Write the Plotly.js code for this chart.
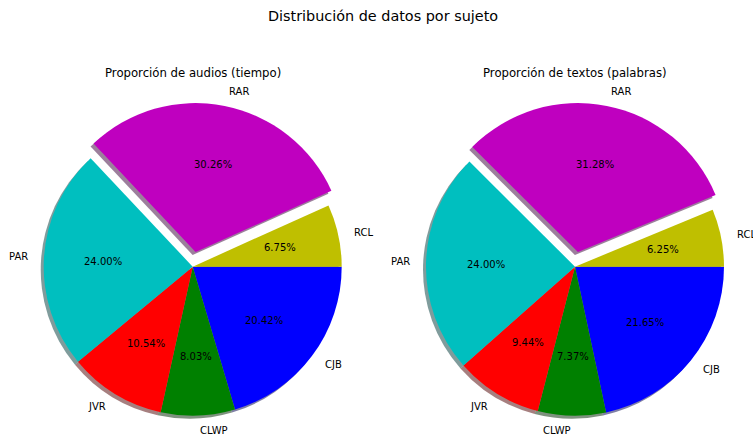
<!DOCTYPE html>
<html><head><meta charset="utf-8">
<script src="https://cdn.plot.ly/plotly-3.0.1.min.js"></script>
<style>html,body{margin:0;padding:0;background:#fff}</style>
</head><body><div id="chart" style="width:753px;height:439px"></div>
<script>
const labels = ['RCL', 'RAR', 'PAR', 'JVR', 'CLWP', 'CJB'];
const audioValues = [6.75, 30.26, 24.00, 10.54, 8.03, 20.42];
const textValues = [6.25, 31.28, 24.00, 9.44, 7.37, 21.65];
const explode = [0, 0.1, 0, 0, 0, 0];
const colors = ['#bfbf00', '#bf00bf', '#00bfbf', '#ff0000', '#008000', '#0000ff'];
const mainTitle = 'Distribución de datos por sujeto';
const subTitles = ['Proporción de audios (tiempo)', 'Proporción de textos (palabras)'];

const W = 753, H = 439;
const FONT = 'DejaVu Sans, sans-serif';
const pies = [
  {values: audioValues, cx: 192.7, cy: 266.7, r: 149, title: subTitles[0]},
  {values: textValues, cx: 575.0, cy: 266.7, r: 149, title: subTitles[1]}
];

function shadowColor(hex) {
  const n = parseInt(hex.slice(1), 16);
  const r = (n >> 16) & 255, g = (n >> 8) & 255, b = n & 255;
  return `rgba(${Math.round(r * 0.3)},${Math.round(g * 0.3)},${Math.round(b * 0.3)},0.5)`;
}
const rev = a => a.slice().reverse();
const maxPull = Math.max(...explode);

function domainFor(cx, cy, r) {
  const half = r * (1 + maxPull);
  return {x: [(cx - half) / W, (cx + half) / W], y: [1 - (cy + half) / H, 1 - (cy - half) / H]};
}

const traces = [];
const annotations = [];

pies.forEach(p => {
  const off = 0.02 * p.r;
  const base = {
    type: 'pie', labels: rev(labels), values: rev(p.values), pull: rev(explode),
    sort: false, direction: 'clockwise', rotation: 90, textinfo: 'none',
    hoverinfo: 'skip', showlegend: false
  };
  traces.push(Object.assign({}, base, {
    domain: domainFor(p.cx - off, p.cy + off, p.r),
    marker: {colors: rev(colors).map(shadowColor), line: {width: 0}}
  }));
  traces.push(Object.assign({}, base, {
    domain: domainFor(p.cx, p.cy, p.r),
    marker: {colors: rev(colors), line: {width: 0}}
  }));

  // text placement following matplotlib's pie conventions
  const total = p.values.reduce((a, b) => a + b, 0);
  let cum = 0;
  p.values.forEach((v, i) => {
    const frac = v / total;
    const th = 2 * Math.PI * (cum + frac / 2);
    cum += frac;
    const c = Math.cos(th), s = Math.sin(th);
    const ex = p.cx + explode[i] * p.r * c, ey = p.cy - explode[i] * p.r * s;
    annotations.push({
      xref: 'paper', yref: 'paper', showarrow: false, borderpad: 0,
      x: (ex + 0.6 * p.r * c) / W, y: 1 - (ey - 0.6 * p.r * s) / H,
      xanchor: 'center', yanchor: 'middle',
      text: (100 * frac).toFixed(2) + '%', font: {family: FONT, size: 10, color: '#000'}
    });
    annotations.push({
      xref: 'paper', yref: 'paper', showarrow: false, borderpad: 0,
      x: (ex + 1.1 * p.r * c) / W, y: 1 - (ey - 1.1 * p.r * s) / H,
      xanchor: c > 0 ? 'left' : 'right', yanchor: 'middle',
      text: labels[i], font: {family: FONT, size: 10, color: '#000'}
    });
  });
  annotations.push({
    xref: 'paper', yref: 'paper', showarrow: false, borderpad: 0,
    x: p.cx / W, y: 1 - 73 / H, xanchor: 'center', yanchor: 'middle',
    text: p.title, font: {family: FONT, size: 11.7, color: '#000'}
  });
});

const layout = {
  width: W, height: H,
  margin: {l: 0, r: 0, t: 0, b: 0},
  paper_bgcolor: '#fff', plot_bgcolor: '#fff',
  title: {
    text: mainTitle, x: 383 / W, xref: 'paper', xanchor: 'center',
    y: 1 - 16 / H, yref: 'paper', yanchor: 'middle',
    font: {family: FONT, size: 14.4, color: '#000'}
  },
  annotations: annotations
};

Plotly.newPlot('chart', traces, layout, {displayModeBar: false, staticPlot: true});
</script></body></html>
